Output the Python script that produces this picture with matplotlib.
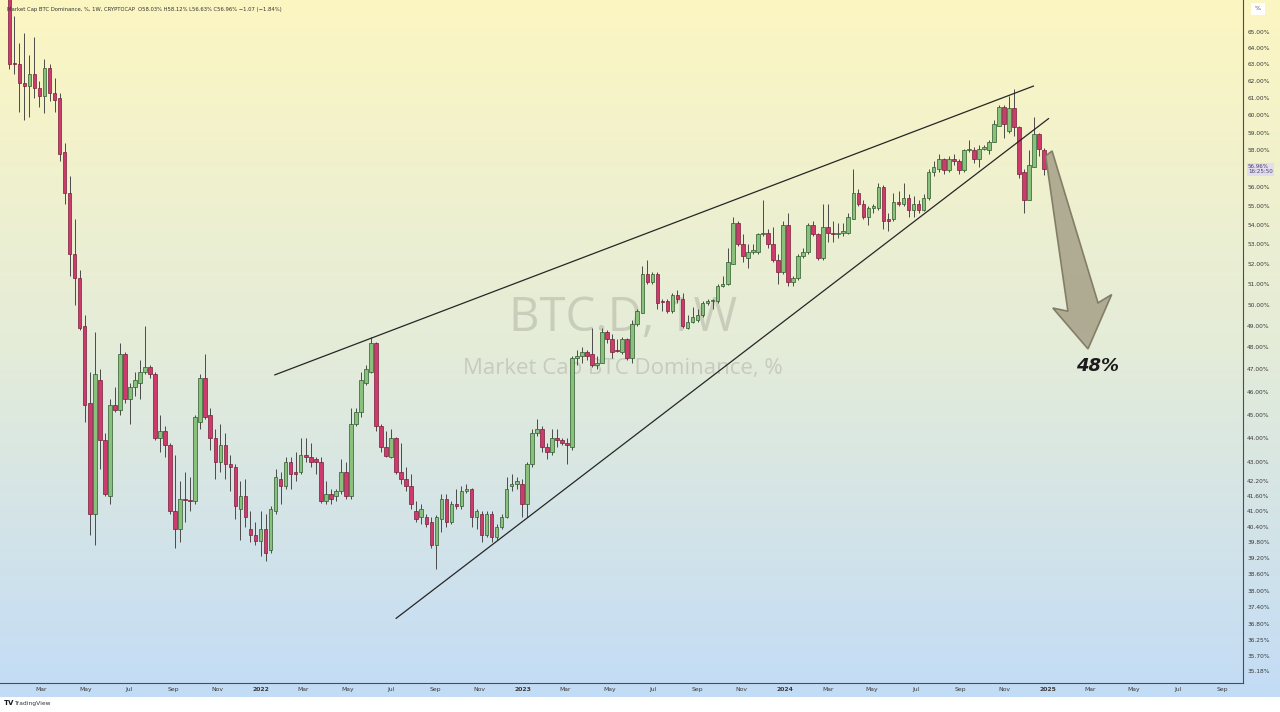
import matplotlib
matplotlib.use("Agg")
import matplotlib.pyplot as plt
import matplotlib.dates as mdates
from matplotlib.colors import LinearSegmentedColormap
from matplotlib.patches import Polygon
from matplotlib.ticker import FixedLocator, NullLocator, FuncFormatter
import matplotlib.transforms as mtrans
import numpy as np
import pandas as pd

# weekly BTC dominance candles (%)
weeks = pd.date_range("2021-01-15", periods=207, freq="7D")

opens = [67.5, 63.1, 63.05, 61.9, 61.7, 62.4, 61.6, 61.1, 62.8, 61.3,
         61.0, 57.9, 55.7, 52.5, 51.3, 49.0, 45.5, 40.9, 46.5, 43.9,
         41.6, 45.4, 45.2, 47.7, 45.7, 46.2, 46.4, 46.9, 47.1, 46.8,
         44.0, 44.3, 43.7, 41.0, 40.3, 41.5, 41.45, 41.4, 44.7, 46.6,
         45.0, 44.0, 43.0, 43.7, 42.9, 42.8, 41.1, 41.6, 40.3, 40.1,
         39.85, 40.3, 39.5, 41.0, 42.3, 42.0, 43.0, 42.6, 42.6, 43.3,
         43.2, 43.1, 43.0, 41.4, 41.7, 41.6, 41.8, 42.6, 41.6, 44.6,
         45.1, 46.4, 46.9, 48.2, 44.5, 43.6, 43.2, 44.0, 42.6, 42.3,
         42.0, 41.0, 40.8, 40.8, 40.6, 39.7, 40.7, 41.5, 40.6, 41.3,
         41.2, 41.8, 41.9, 40.8, 40.9, 40.1, 40.9, 40.0, 40.4, 40.8,
         42.0, 42.1, 42.1, 41.3, 42.9, 44.2, 44.4, 43.6, 43.4, 44.0,
         43.9, 43.8, 43.6, 47.5, 47.6, 47.8, 47.7, 47.2, 47.3, 48.7,
         48.4, 47.9, 47.8, 48.4, 47.5, 49.1, 49.6, 51.5, 51.1, 51.5,
         50.2, 50.2, 49.7, 50.5, 50.3, 48.9, 49.2, 49.3, 49.5, 50.1,
         50.2, 50.2, 50.9, 51.0, 52.0, 54.1, 53.0, 52.3, 52.6, 52.6,
         53.5, 53.6, 53.0, 52.2, 51.6, 54.0, 51.1, 51.3, 52.4, 52.6,
         54.0, 53.5, 52.3, 53.9, 53.6, 53.5, 53.6, 53.6, 54.3, 55.7,
         55.1, 54.4, 54.9, 54.9, 56.0, 54.3, 54.3, 55.2, 55.1, 55.4,
         54.8, 55.1, 54.8, 55.4, 56.8, 57.0, 57.5, 56.9, 57.5, 57.4,
         56.9, 58.0, 58.0, 57.5, 58.1, 58.0, 58.5, 59.4, 60.5, 59.1,
         60.4, 59.3, 56.8, 55.3, 57.1, 58.9, 58.03]

highs = [69.0, 66.0, 64.3, 64.9, 63.6, 64.7, 62.0, 63.3, 63.0, 62.2,
         61.3, 58.4, 56.6, 54.3, 51.7, 49.5, 46.9, 48.7, 47.0, 44.2,
         45.7, 46.2, 48.2, 47.8, 46.4, 46.9, 47.4, 49.0, 47.2, 46.9,
         45.0, 44.5, 43.8, 43.3, 42.2, 42.6, 42.4, 45.0, 46.8, 47.7,
         45.3, 44.4, 44.6, 44.2, 43.3, 42.9, 42.2, 42.3, 41.0, 40.6,
         41.0, 40.9, 41.2, 42.7, 42.6, 43.2, 43.2, 43.4, 44.0, 44.0,
         43.8, 43.2, 43.2, 42.2, 41.9, 41.9, 43.1, 43.0, 45.3, 45.3,
         46.9, 47.2, 48.5, 48.25, 44.6, 44.3, 44.4, 44.05, 43.8, 42.8,
         42.5, 41.4, 41.3, 40.9, 40.8, 40.85, 41.7, 41.7, 41.4, 41.9,
         42.0, 42.1, 41.95, 41.1, 41.0, 41.0, 41.0, 40.5, 40.9, 42.4,
         42.5, 42.4, 42.3, 43.0, 44.4, 44.8, 44.5, 43.8, 44.4, 44.4,
         44.0, 44.0, 47.6, 47.9, 48.0, 47.9, 48.9, 47.6, 48.9, 48.8,
         48.6, 48.4, 48.5, 48.45, 49.3, 49.8, 51.9, 52.2, 51.6, 51.6,
         50.3, 50.3, 50.6, 50.7, 50.6, 49.5, 49.9, 49.8, 50.2, 50.3,
         50.3, 51.0, 51.4, 52.8, 54.4, 54.2, 53.5, 53.0, 53.0, 53.6,
         55.3, 53.8, 53.9, 52.5, 54.2, 54.6, 51.4, 52.5, 52.8, 54.1,
         54.2, 53.6, 55.1, 55.1, 54.2, 54.1, 54.1, 54.6, 57.0, 55.9,
         55.3, 55.0, 55.1, 56.2, 56.1, 54.6, 55.7, 55.8, 56.2, 55.6,
         55.5, 55.3, 55.6, 57.0, 57.4, 57.8, 57.6, 57.7, 57.8, 57.5,
         58.1, 58.6, 58.2, 58.3, 58.3, 58.6, 59.7, 60.6, 60.6, 61.1,
         61.5, 59.4, 57.0, 58.0, 59.9, 59.0, 58.12]

lows = [62.7, 62.4, 60.2, 59.7, 59.9, 61.0, 60.5, 60.1, 60.8, 60.2,
        57.4, 55.1, 51.4, 50.0, 48.8, 44.7, 40.1, 39.7, 42.7, 41.6,
        41.3, 45.1, 45.0, 45.5, 44.6, 45.8, 45.7, 46.8, 46.6, 43.9,
        43.4, 43.2, 40.9, 39.6, 39.8, 40.6, 41.0, 41.3, 44.4, 44.8,
        43.5, 42.3, 42.6, 42.3, 41.8, 40.7, 39.9, 40.4, 39.8, 39.7,
        39.3, 39.1, 39.4, 40.9, 41.3, 41.9, 41.9, 42.2, 42.5, 43.0,
        42.8, 42.5, 41.35, 41.3, 41.3, 41.4, 41.7, 41.5, 41.5, 44.5,
        44.9, 46.3, 46.85, 44.3, 43.4, 43.2, 43.15, 42.5, 42.1, 41.8,
        41.1, 40.6, 40.5, 40.4, 39.6, 38.8, 40.2, 40.4, 40.5, 41.1,
        41.1, 41.75, 40.4, 40.3, 39.8, 40.0, 39.8, 39.9, 40.3, 40.75,
        41.8, 41.9, 40.8, 40.8, 42.8, 44.1, 43.4, 43.1, 43.3, 43.6,
        43.7, 42.9, 43.5, 47.2, 47.3, 47.4, 47.1, 47.0, 47.3, 48.2,
        47.5, 47.8, 47.7, 47.4, 47.3, 49.0, 49.6, 51.0, 51.0, 49.8,
        49.7, 49.6, 49.6, 50.1, 48.9, 48.85, 49.15, 49.2, 49.4, 50.0,
        49.8, 50.1, 50.85, 50.95, 52.0, 52.9, 52.1, 51.8, 52.5, 52.5,
        53.4, 52.8, 52.1, 51.0, 51.5, 50.9, 50.9, 51.2, 52.3, 52.5,
        53.4, 52.2, 52.2, 53.1, 53.1, 53.3, 53.4, 53.5, 54.3, 55.0,
        54.3, 54.0, 54.6, 54.8, 53.8, 53.7, 54.2, 55.0, 55.0, 54.4,
        54.4, 54.6, 54.7, 55.3, 56.6, 56.8, 56.7, 56.8, 57.2, 56.7,
        56.8, 57.9, 57.3, 57.1, 58.0, 57.8, 58.5, 59.4, 58.7, 59.0,
        58.8, 56.5, 54.6, 55.3, 57.1, 57.7, 56.63]

closes = [63.05, 63.0, 61.9, 61.7, 62.4, 61.6, 61.1, 62.8, 61.3, 60.9,
          57.8, 55.7, 52.5, 51.3, 48.9, 45.4, 40.9, 46.8, 43.9, 41.7,
          45.4, 45.2, 47.7, 45.7, 46.2, 46.5, 46.9, 47.1, 46.8, 44.0,
          44.3, 43.7, 41.0, 40.3, 41.5, 41.45, 41.4, 44.9, 46.6, 44.9,
          44.0, 43.0, 43.7, 42.9, 42.8, 41.2, 41.6, 40.8, 40.1, 39.85,
          40.3, 39.4, 41.1, 42.4, 42.0, 43.0, 42.5, 42.5, 43.3, 43.2,
          43.0, 43.0, 41.4, 41.7, 41.5, 41.8, 42.6, 41.6, 44.6, 45.1,
          46.5, 47.0, 48.2, 44.5, 43.6, 43.25, 44.0, 42.6, 42.3, 42.0,
          41.3, 40.7, 41.1, 40.5, 39.7, 40.8, 41.5, 40.6, 41.3, 41.2,
          41.8, 41.9, 40.8, 41.0, 40.1, 40.9, 40.0, 40.4, 40.8, 41.9,
          42.1, 42.2, 41.3, 42.9, 44.2, 44.4, 43.6, 43.4, 44.0, 43.9,
          43.8, 43.7, 47.5, 47.6, 47.8, 47.6, 47.2, 47.3, 48.7, 48.4,
          47.8, 47.85, 48.4, 47.5, 49.1, 49.7, 51.5, 51.1, 51.5, 50.1,
          50.15, 49.7, 50.5, 50.3, 49.0, 49.2, 49.4, 49.5, 50.1, 50.2,
          50.25, 50.9, 51.0, 52.1, 54.1, 53.0, 52.4, 52.6, 52.7, 53.5,
          53.6, 53.0, 52.2, 51.6, 54.0, 51.1, 51.3, 52.4, 52.6, 54.0,
          53.5, 52.3, 53.9, 53.6, 53.5, 53.6, 53.7, 54.4, 55.7, 55.1,
          54.4, 54.9, 55.0, 56.0, 54.2, 54.2, 55.2, 55.1, 55.4, 54.8,
          55.1, 54.8, 55.4, 56.8, 57.1, 57.5, 56.9, 57.5, 57.4, 56.9,
          58.0, 58.1, 57.5, 58.1, 58.2, 58.5, 59.5, 60.5, 59.5, 60.4,
          59.3, 56.7, 55.3, 57.2, 58.9, 58.1, 56.96]

# right-hand price scale labels
ytick_vals = [65, 64, 63, 62, 61, 60, 59, 58, 56, 55, 54, 53, 52, 51, 50, 49,
              48, 47, 46, 45, 44, 43, 42.2, 41.6, 41.0, 40.4, 39.8, 39.2,
              38.6, 38.0, 37.4, 36.8, 36.25, 35.7, 35.18]

# drawn trend lines (wedge) and the target arrow
upper_x = ["2022-01-20", "2024-12-12"]
upper_y = [46.75, 61.7]
lower_x = ["2022-07-08", "2025-01-02"]
lower_y = [37.0, 59.8]
arrow_x = ["2024-12-29", "2025-01-07", "2025-03-12", "2025-03-31",
           "2025-02-26", "2025-01-08", "2025-01-29"]
arrow_y = [57.7, 57.97, 50.1, 50.5, 47.93, 49.85, 49.7]
target_x, target_y, target_txt = "2025-03-11", 47.15, "48%"
last_price = 56.96

df = pd.DataFrame({"o": opens, "h": highs, "l": lows, "c": closes}, index=weeks)

W, H = 1280, 712
fig = plt.figure(figsize=(W / 100, H / 100), dpi=100)
fig.patch.set_facecolor("white")

# gradient backdrop (yellow -> light blue)
bg = fig.add_axes([0, 15 / H, 1, 697 / H])
bg.axis("off")
cmap = LinearSegmentedColormap.from_list("tvbg", ["#fcf6c2", "#e4ecd9", "#c3dcf6"])
bg.imshow(np.linspace(0, 1, 256)[:, None], aspect="auto", cmap=cmap,
          extent=[0, 1, 0, 1], origin="upper")

ax = fig.add_axes([0, (H - 683) / H, 1243 / W, 683 / H])
ax.set_facecolor("none")
ax.set_yscale("log")
ax.set_ylim(34.77, 67.02)
ax.set_xlim(pd.Timestamp("2021-01-02"), pd.Timestamp("2025-09-30"))

x = mdates.date2num(df.index)
up = df.c >= df.o
ax.vlines(x, df.l, df.h, color="#4a4a4a", lw=0.7, zorder=2)
ax.bar(x[up], (df.c - df.o)[up].clip(lower=0.03), bottom=df.o[up], width=5.0,
       color="#88c07c", edgecolor="#2e5a2e", lw=0.5, zorder=3)
ax.bar(x[~up], (df.o - df.c)[~up].clip(lower=0.03), bottom=df.c[~up], width=5.0,
       color="#cc3b6b", edgecolor="#7a1e3c", lw=0.5, zorder=3)

# watermark
ax.text(0.501, 0.534, "BTC.D, 1W", transform=ax.transAxes, ha="center", va="center",
        fontsize=34, family="Open Sans", color="#8e8a80", alpha=0.32, zorder=1)
ax.text(0.501, 0.46, "Market Cap BTC Dominance, %", transform=ax.transAxes,
        ha="center", va="center", fontsize=16, family="Open Sans",
        color="#8e8a80", alpha=0.32, zorder=1)

# wedge lines
ax.plot(pd.to_datetime(upper_x), upper_y, color="#262626", lw=0.9, zorder=4)
ax.plot(pd.to_datetime(lower_x), lower_y, color="#262626", lw=0.9, zorder=4)

# target arrow
pts = np.column_stack([mdates.date2num(pd.to_datetime(arrow_x)), arrow_y])
ax.add_patch(Polygon(pts, closed=True, facecolor="#aba68e", edgecolor="#7d785f",
                     lw=1.2, alpha=0.92, zorder=5))
ax.text(pd.Timestamp(target_x), target_y, target_txt, ha="center", va="center",
        fontsize=13, fontweight="bold", fontstyle="italic", color="#1b1b1b", zorder=6)

# axes styling
for s in ("top", "left"):
    ax.spines[s].set_visible(False)
ax.spines["right"].set_color("#4d4d4d")
ax.spines["bottom"].set_color("#4d4d4d")
ax.spines["right"].set_linewidth(0.8)
ax.spines["bottom"].set_linewidth(0.8)

ax.yaxis.tick_right()
ax.yaxis.set_major_locator(FixedLocator(ytick_vals))
ax.yaxis.set_minor_locator(NullLocator())
ax.yaxis.set_major_formatter(FuncFormatter(lambda v, p: f"{v:.2f}%"))
ax.tick_params(axis="y", length=0, pad=3, labelsize=4.2, labelcolor="#3a3a3a")

xt = pd.date_range("2021-03-01", "2025-09-01", freq="2MS")
ax.set_xticks(mdates.date2num(xt))
ax.set_xticklabels([str(d.year) if d.month == 1 else d.strftime("%b") for d in xt])
ax.tick_params(axis="x", length=0, pad=3, labelsize=4.4, labelcolor="#3a3a3a")
for lbl in ax.get_xticklabels():
    if lbl.get_text().isdigit():
        lbl.set_fontweight("bold")

# last price tag on the scale
trans = mtrans.blended_transform_factory(ax.transAxes, ax.transData)
ax.text(1.004, last_price, f"{last_price:.2f}%\n16:25:50", transform=trans,
        ha="left", va="center", fontsize=4.0, color="#4b3f5e", linespacing=1.1,
        bbox=dict(boxstyle="square,pad=0.25", fc="#e2dcef", ec="none"), clip_on=False)

# header and small chrome
fig.text(7 / W, 1 - 9 / H,
         "Market Cap BTC Dominance, %, 1W, CRYPTOCAP  O58.03% H58.12% L56.63% C56.96% \u22121.07 (\u22121.84%)",
         fontsize=3.8, color="#333333", va="center", ha="left")
fig.text(1 - 22 / W, 1 - 9 / H, "%", fontsize=4.5, color="#555555", va="center",
         ha="center", bbox=dict(boxstyle="square,pad=0.6", fc="white", ec="none"))
fig.text(4 / W, 1 - 703 / H, "TV", fontsize=5, fontweight="bold", color="#131722",
         va="center", ha="left")
fig.text(14 / W, 1 - 703 / H, "TradingView", fontsize=4.3, color="#333333",
         va="center", ha="left")

fig.savefig("out.png", dpi=100)
